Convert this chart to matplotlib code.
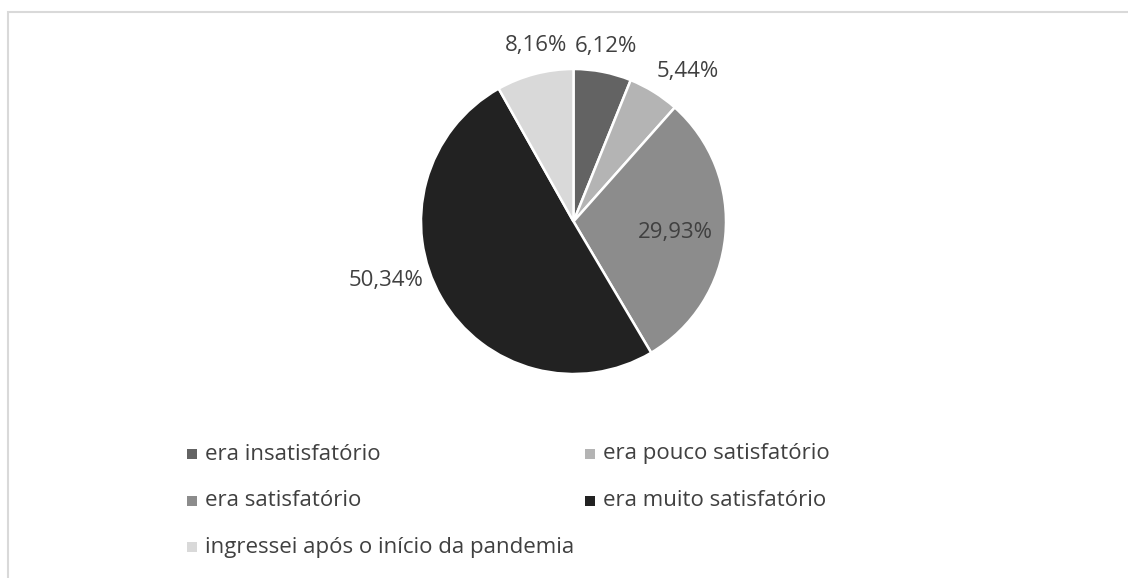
import numpy as np
import matplotlib.pyplot as plt
from matplotlib.patches import Rectangle

plt.rcParams['font.family'] = ['Open Sans', 'DejaVu Sans']

# Share of answers per category (%)
categories = ["era insatisfatório", "era pouco satisfatório", "era satisfatório",
              "era muito satisfatório", "ingressei após o início da pandemia"]
values = [6.12, 5.44, 29.93, 50.34, 8.16]
colors = ["#636363", "#b4b4b4", "#8c8c8c", "#222222", "#d9d9d9"]

# label placement: (distance in radii, angle shift from the wedge middle)
label_pos = [(1.17, 0.5), (1.235, -5.6), (0.67, -0.4), (1.29, -12.4), (1.18, -2.6)]

W, H = 1128, 578
fig = plt.figure(figsize=(W / 100, H / 100), dpi=100)
ax = fig.add_axes([0, 0, 1, 1])

# light frame around the chart area
ax.add_patch(Rectangle((7.5, -20), W + 40, H - 12 + 20, fill=False,
                       edgecolor="#d9d9d9", linewidth=1.5))

cx, cy, R = 573.5, H - 221.5, 152.5
wedges, _ = ax.pie(values, colors=colors, startangle=90, counterclock=False,
                   center=(cx, cy), radius=R, frame=True,
                   wedgeprops=dict(edgecolor="white", linewidth=1.8))
ax.set_xlim(0, W)
ax.set_ylim(0, H)
ax.set_aspect("equal")
ax.axis("off")

for w, v, (f, da) in zip(wedges, values, label_pos):
    mid = np.deg2rad((w.theta1 + w.theta2) / 2 + da)
    ax.text(cx + f * R * np.cos(mid), cy + f * R * np.sin(mid),
            f"{v:.2f}%".replace(".", ","), ha="center", va="center",
            fontsize=16, color="#404040")

# legend, two columns filled row by row
col_x = [192, 590]
row_y = [454, 501, 547]
for i, (name, c) in enumerate(zip(categories, colors)):
    x = col_x[i % 2]
    y = H - row_y[i // 2]
    ax.add_patch(Rectangle((x - 5, y - 5), 10, 10, facecolor=c, edgecolor="none"))
    ax.text(x + 13, y, name, ha="left", va="center", fontsize=16, color="#404040")

fig.savefig("out.png", dpi=100)
